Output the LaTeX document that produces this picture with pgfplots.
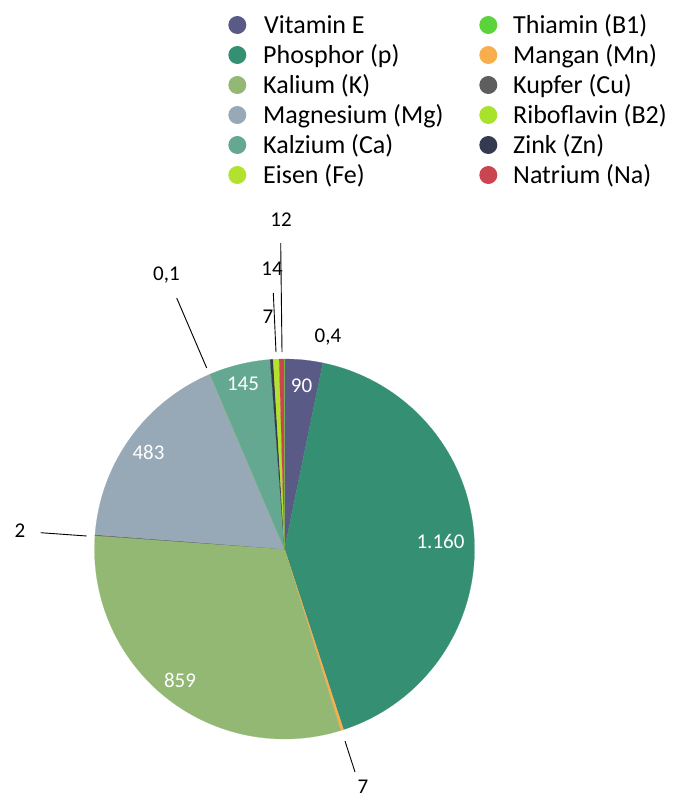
\documentclass[border=0pt]{standalone}
\usepackage{pgfplots}
\pgfplotsset{compat=1.18}
\usepackage{pgfplotstable}
\usepackage{fontspec}
\setmainfont{Carlito}

\definecolor{cVitE}{HTML}{5A5A86}
\definecolor{cPhos}{HTML}{358F73}
\definecolor{cKal}{HTML}{93B873}
\definecolor{cMag}{HTML}{97A8B6}
\definecolor{cCa}{HTML}{65A892}
\definecolor{cFe}{HTML}{B2E22E}
\definecolor{cThi}{HTML}{5AD43A}
\definecolor{cMn}{HTML}{F9AE4E}
\definecolor{cCu}{HTML}{5E5E5E}
\definecolor{cRibo}{HTML}{A9E22A}
\definecolor{cZn}{HTML}{353A50}
\definecolor{cNa}{HTML}{CB4551}

% slices in drawing order, clockwise from twelve o'clock
\pgfplotstableread[col sep=comma]{
name,value,color
Vitamin E,90,cVitE
Phosphor,1160,cPhos
Mangan,7,cMn
Kalium,859,cKal
Kupfer,2,cCu
Magnesium,483,cMag
Riboflavin,0.1,cRibo
Kalzium,145,cCa
Zink,7,cZn
Eisen,14,cFe
Natrium,12,cNa
Thiamin,0.4,cThi
}\minerals

\newcommand{\cx}{284.5}
\newcommand{\cy}{549}
\newcommand{\rad}{190}

\begin{document}
\begin{tikzpicture}
\useasboundingbox (0,0) rectangle (683pt,801pt);
\begin{axis}[
  scale only axis,
  width=683pt, height=801pt,
  xmin=0, xmax=683, ymin=0, ymax=801,
  y dir=reverse,
  hide axis,
  clip=false,
]
% total of all values
\pgfplotstablegetrowsof{\minerals}
\pgfmathtruncatemacro\lastrow{\pgfplotsretval-1}
\def\total{0}
\pgfplotsforeachungrouped \i in {0,...,\lastrow}{%
  \pgfplotstablegetelem{\i}{value}\of\minerals
  \pgfmathsetmacro\total{\total+\pgfplotsretval}%
}
% wedges
\def\cum{0}
\pgfplotsforeachungrouped \i in {0,...,\lastrow}{%
  \pgfplotstablegetelem{\i}{value}\of\minerals \let\val\pgfplotsretval
  \pgfplotstablegetelem{\i}{color}\of\minerals \let\col\pgfplotsretval
  \pgfmathsetmacro\angA{\cum/\total*360}%
  \pgfmathsetmacro\cum{\cum+\val}%
  \pgfmathsetmacro\angB{\cum/\total*360}%
  \edef\wedge{\noexpand\addplot[fill=\col, draw=\col, line width=0.2pt,
      domain=\angA:\angB, samples=80, variable=\noexpand\t]
    ({\cx+\rad*sin(\noexpand\t)},{\cy-\rad*cos(\noexpand\t)})
    -- (axis cs:\cx,\cy) -- cycle;}%
  \wedge
}

% values inside the slices
\begin{scope}[every node/.style={font=\fontsize{21}{25}\selectfont, text=white, inner sep=0pt, anchor=base}]
\node at (axis cs:301.5,392) {90};
\node at (axis cs:440.5,548) {1.160};
\node at (axis cs:180,687) {859};
\node at (axis cs:148.5,459) {483};
\node at (axis cs:243,390) {145};
\end{scope}

% values outside with leader lines
\begin{scope}[every node/.style={font=\fontsize{21}{25}\selectfont, text=black, inner sep=0pt, anchor=base}]
\node at (axis cs:328,342) {0,4};
\node at (axis cs:281,226) {12};
\node at (axis cs:272,275) {14};
\node at (axis cs:268,323) {7};
\node at (axis cs:166.5,280) {0,1};
\node at (axis cs:20,537) {2};
\node at (axis cs:363,793) {7};
\end{scope}
\draw[black, line width=0.9pt] (axis cs:280.7,243) -- (axis cs:282,352);
\draw[black, line width=0.9pt] (axis cs:273.3,293) -- (axis cs:276,352);
\draw[black, line width=0.9pt] (axis cs:176.7,298) -- (axis cs:206.7,368);
\draw[black, line width=0.9pt] (axis cs:40.7,532.7) -- (axis cs:86.7,536);
\draw[black, line width=0.9pt] (axis cs:345,741) -- (axis cs:355,772);

% legend, two columns
\begin{scope}[every node/.style={font=\fontsize{26}{30}\selectfont, inner sep=0pt, anchor=base west}]
\fill[cVitE] (axis cs:237.3,25) circle[radius=9pt];
\node at (axis cs:264,33) {Vitamin E};
\fill[cPhos] (axis cs:237.3,55) circle[radius=9pt];
\node at (axis cs:263,63) {Phosphor (p)};
\fill[cKal] (axis cs:237.3,85) circle[radius=9pt];
\node at (axis cs:263,93) {Kalium (K)};
\fill[cMag] (axis cs:237.3,115) circle[radius=9pt];
\node at (axis cs:263,123) {Magnesium (Mg)};
\fill[cCa] (axis cs:237.3,145) circle[radius=9pt];
\node at (axis cs:263,153) {Kalzium (Ca)};
\fill[cFe] (axis cs:237.3,175) circle[radius=9pt];
\node at (axis cs:263,183) {Eisen (Fe)};
\fill[cThi] (axis cs:488.3,25) circle[radius=9pt];
\node at (axis cs:513,33) {Thiamin (B1)};
\fill[cMn] (axis cs:488.3,55) circle[radius=9pt];
\node at (axis cs:513,63) {Mangan (Mn)};
\fill[cCu] (axis cs:488.3,85) circle[radius=9pt];
\node at (axis cs:513,93) {Kupfer (Cu)};
\fill[cRibo] (axis cs:488.3,115) circle[radius=9pt];
\node at (axis cs:513,123) {Riboflavin (B2)};
\fill[cZn] (axis cs:488.3,145) circle[radius=9pt];
\node at (axis cs:513,153) {Zink (Zn)};
\fill[cNa] (axis cs:488.3,175) circle[radius=9pt];
\node at (axis cs:513,183) {Natrium (Na)};
\end{scope}
\end{axis}
\end{tikzpicture}
\end{document}
